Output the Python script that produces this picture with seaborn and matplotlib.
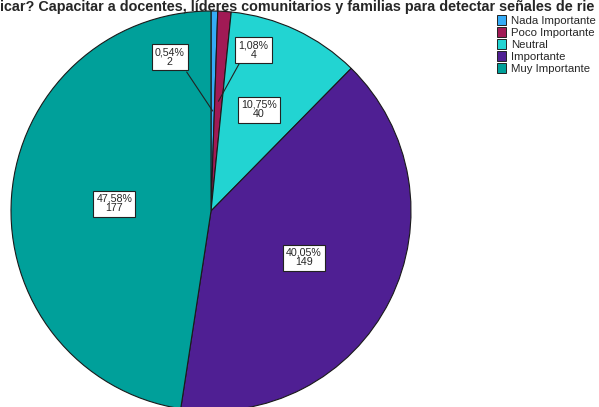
"""
Pie chart: importance of training teachers, community leaders and families
to detect risk signals (SPSS-style output).
"""
import matplotlib
matplotlib.use("Agg")
import matplotlib.pyplot as plt
import numpy as np
import seaborn as sns

categories = ["Nada Importante", "Poco Importante", "Neutral", "Importante", "Muy Importante"]
counts = [2, 4, 40, 149, 177]
colors = ["#35abf7", "#a11a55", "#22d4d2", "#4f1f93", "#00a09a"]
title = "icar? Capacitar a docentes, líderes comunitarios y familias para detectar señales de rie"

W, H = 599, 407
sns.set_theme(style="white")
plt.rcParams["font.family"] = ["Liberation Sans", "DejaVu Sans"]

fig = plt.figure(figsize=(W / 100, H / 100), dpi=100)
ax = fig.add_axes([0, 0, 1, 1])

cx, cy, r = 211, H - 211, 200
wedges, _ = ax.pie(
    counts, colors=colors, startangle=90, counterclock=False,
    center=(cx, cy), radius=r, frame=True,
    wedgeprops=dict(edgecolor="#1a1a1a", linewidth=0.8),
)
ax.set_xlim(0, W)
ax.set_ylim(0, H)
ax.set_aspect("equal")
ax.axis("off")

total = sum(counts)
box = dict(boxstyle="square,pad=0.3", facecolor="white", edgecolor="#222222", linewidth=0.8)
# radial fraction of the anchor; for thin slices: box offset and leader-line end offset (px)
place = [
    (0.5, (-43, 54), (-26, 39)),
    (0.55, (35, 51), (21, 38)),
    (0.56, None, None),
    (0.52, None, None),
    (0.485, None, None),
]
for w, n, (frac, off, line_end) in zip(wedges, counts, place):
    ang = np.deg2rad((w.theta1 + w.theta2) / 2)
    px, py = cx + frac * r * np.cos(ang), cy + frac * r * np.sin(ang)
    txt = f"{100 * n / total:.2f}%".replace(".", ",") + f"\n{n}"
    if off is not None:
        ax.plot([px, px + line_end[0]], [py, py + line_end[1]], color="#222222", lw=0.8)
        px, py = px + off[0], py + off[1]
    ax.text(px, py, txt, ha="center", va="center", fontsize=7.7,
            linespacing=0.95, bbox=box)

fig.text(0.0, 1.0, title, ha="left", va="top", fontsize=10.4, fontweight="bold")

handles = [plt.Rectangle((0, 0), 1, 1, facecolor=c, edgecolor="#222222", linewidth=0.7)
           for c in colors]
fig.legend(handles, categories, loc="upper left", bbox_to_anchor=(0.829, 0.964),
           frameon=False, fontsize=8.2, handlelength=0.85, handleheight=1.0,
           handletextpad=0.4, labelspacing=0.1, borderaxespad=0, borderpad=0)

fig.savefig("out.png", dpi=100)
